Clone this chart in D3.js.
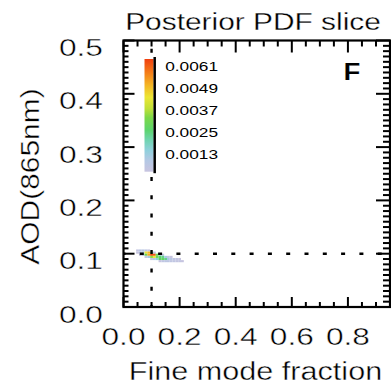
<!DOCTYPE html>
<html>
<head>
<meta charset="utf-8">
<script src="https://cdn.jsdelivr.net/npm/d3@7"></script>
<style>
  html, body { margin: 0; padding: 0; background: #fff; }
  svg { display: block; }
  text { font-family: "Liberation Sans", Arial, Helvetica, sans-serif; fill: #000; stroke: #fff; stroke-width: 0.4; }
</style>
</head>
<body>
<svg id="chart" width="391" height="387"></svg>
<script>
// Axis ticks and labels
const xTickValues = [0.0, 0.2, 0.4, 0.6, 0.8];
const xTickLabels = ["0.0", "0.2", "0.4", "0.6", "0.8"];
const yTickValues = [0.0, 0.1, 0.2, 0.3, 0.4, 0.5];
const yTickLabels = ["0.0", "0.1", "0.2", "0.3", "0.4", "0.5"];

// Colour bar ticks (PDF density)
const cbTickValues = [0.0013, 0.0025, 0.0037, 0.0049, 0.0061];
const cbTickLabels = ["0.0013", "0.0025", "0.0037", "0.0049", "0.0061"];
const cbDomain = [0.00035, 0.0065];

// Reference (true) values marked by dotted cross-hairs
const refFmf = 0.1;
const refAod = 0.1;

// Posterior PDF slice on a (fine mode fraction, AOD) grid
const fmfBins = [0.05, 0.06, 0.07, 0.08, 0.09, 0.10, 0.11, 0.12, 0.13, 0.14, 0.15, 0.16, 0.17, 0.18, 0.19, 0.20, 0.21];
const aodBins = [0.106, 0.102, 0.098, 0.094, 0.090, 0.086];
const pdfValues = [
  [0.0005, 0.0008, 0.0008, 0.0007, 0.0004, 0, 0, 0, 0, 0, 0, 0, 0, 0, 0, 0, 0],
  [0.0004, 0.0008, 0.0012, 0.0044, 0.0050, 0.0030, 0.0008, 0, 0, 0, 0, 0, 0, 0, 0, 0, 0],
  [0, 0.0004, 0.0008, 0.0030, 0.0052, 0.0064, 0.0062, 0.0030, 0.0012, 0.0006, 0, 0, 0, 0, 0, 0, 0],
  [0, 0, 0, 0.0005, 0.0012, 0.0034, 0.0044, 0.0030, 0.0026, 0.0024, 0.0012, 0.0006, 0.0004, 0, 0, 0, 0],
  [0, 0, 0, 0, 0, 0.0005, 0.0010, 0.0016, 0.0027, 0.0028, 0.0024, 0.0012, 0.0008, 0.0006, 0.0005, 0.0004, 0],
  [0, 0, 0, 0, 0, 0, 0, 0, 0.0004, 0.0006, 0.0007, 0.0007, 0.0006, 0.0006, 0.0005, 0.0005, 0.0004]
];
const fmfStep = 0.01;
const aodStep = 0.004;

// Colour ramp stops (fraction of colour-bar range -> colour)
const rampStops = [0, 0.10, 0.19, 0.28, 0.37, 0.48, 0.56, 0.66, 0.77, 0.88, 1];
const rampColors = ["#c8c4e0", "#b4c8e4", "#90d0dc", "#70d4b0", "#5cd46c", "#7cd848", "#c0e038", "#ece634", "#f4b424", "#f47c18", "#f04010"];

const svg = d3.select("#chart");

const x = d3.scaleLinear().domain([0, 0.95]).range([123.5, 390]);
const y = d3.scaleLinear().domain([0, 0.5]).range([307, 40.5]);

const tNorm = d3.scaleLinear().domain(cbDomain).range([0, 1]).clamp(true);
const ramp = d3.scaleLinear().domain(rampStops).range(rampColors).interpolate(d3.interpolateRgb);
const color = v => ramp(tNorm(v));

// text helper with horizontal stretch
function txt(parent, s, px, py, size, sx, anchor, extra) {
  const t = parent.append("text")
    .attr("transform", `translate(${px},${py}) scale(${sx},1)`)
    .attr("font-size", size)
    .attr("text-anchor", anchor)
    .text(s);
  if (extra) extra(t);
  return t;
}

// --- heat map ---
const defs = svg.append("defs");
defs.append("filter").attr("id", "soft")
  .attr("x", "-50%").attr("y", "-50%").attr("width", "200%").attr("height", "200%")
  .append("feGaussianBlur").attr("stdDeviation", 0.6);

const cells = [];
aodBins.forEach((a, i) => fmfBins.forEach((f, j) => {
  const v = pdfValues[i][j];
  if (v > 0) cells.push({ f, a, v });
}));

svg.append("g").attr("filter", "url(#soft)")
  .selectAll("rect").data(cells).join("rect")
  .attr("x", d => x(d.f - fmfStep / 2))
  .attr("y", d => y(d.a + aodStep / 2))
  .attr("width", d => x(d.f + fmfStep / 2) - x(d.f - fmfStep / 2))
  .attr("height", d => y(d.a - aodStep / 2) - y(d.a + aodStep / 2))
  .attr("fill", d => color(d.v));

// --- dotted reference lines ---
svg.append("line")
  .attr("x1", x(refFmf)).attr("x2", x(refFmf))
  .attr("y1", y(0)).attr("y2", y(0.5))
  .attr("stroke", "#000").attr("stroke-width", 2.4)
  .attr("stroke-dasharray", "4 14.3").attr("stroke-dashoffset", 2);
svg.append("line")
  .attr("x1", x(0)).attr("x2", x(0.95))
  .attr("y1", y(refAod)).attr("y2", y(refAod))
  .attr("stroke", "#000").attr("stroke-width", 2.4)
  .attr("stroke-dasharray", "4 14.3").attr("stroke-dashoffset", 2);

// --- frame and ticks ---
const axisG = svg.append("g").attr("stroke", "#000").attr("stroke-width", 2);
const x0 = x.range()[0], x1 = x.range()[1], yb = y.range()[0], yt = y.range()[1];

const xMinor = d3.range(0, 0.951, 0.05);
const yMinor = d3.range(0, 0.5001, 0.01);

function tickLines(list, fn) {
  list.forEach(v => { const c = fn(v); axisG.append("line").attr("x1", c[0]).attr("y1", c[1]).attr("x2", c[2]).attr("y2", c[3]); });
}
const isMajorX = v => xTickValues.some(m => Math.abs(m - v) < 1e-6);
const isMajorY = v => yTickValues.some(m => Math.abs(m - v) < 1e-6);

// bottom and top
tickLines(xMinor, v => { const L = isMajorX(v) ? 10 : 5; return [x(v), yb, x(v), yb - L]; });
tickLines(xMinor, v => { const L = isMajorX(v) ? 12 : 6; return [x(v), yt, x(v), yt + L]; });
// left and right
tickLines(yMinor, v => { const L = isMajorY(v) ? 11 : 5; return [x0, y(v), x0 + L, y(v)]; });
tickLines(yMinor, v => { const L = isMajorY(v) ? 14 : 7; return [x1, y(v), x1 - L, y(v)]; });

axisG.append("rect")
  .attr("x", x0).attr("y", yt).attr("width", x1 - x0).attr("height", yb - yt)
  .attr("fill", "none").attr("stroke-width", 2.2);

// --- tick labels ---
xTickValues.forEach((v, i) => txt(svg, xTickLabels[i], x(v), 345, 24, 1.32, "middle"));
yTickValues.forEach((v, i) => txt(svg, yTickLabels[i], 103, y(v) + 15.5, 23.5, 1.35, "end"));

// --- axis titles and heading ---
txt(svg, "Fine mode fraction", 255.5, 380, 25.5, 1.2, "middle");
svg.append("text")
  .attr("transform", "translate(38.5,176.5) rotate(-90) scale(1.13,1)")
  .attr("font-size", 26.5).attr("text-anchor", "middle")
  .text("AOD(865nm)");
txt(svg, "Posterior PDF slice", 253, 30, 24.5, 1.22, "middle", t => t.style("stroke-width", 0.3));
txt(svg, "F", 343.5, 80, 24, 1.15, "start", t => t.attr("font-weight", "bold").style("stroke-width", 0.15));

// --- colour bar ---
const cb = d3.scaleLinear().domain(cbDomain).range([171.7, 59]);
const grad = defs.append("linearGradient").attr("id", "cbGrad")
  .attr("x1", 0).attr("y1", 1).attr("x2", 0).attr("y2", 0);
rampStops.forEach((s, i) => grad.append("stop").attr("offset", s).attr("stop-color", rampColors[i]));

svg.append("rect")
  .attr("x", 144.5).attr("y", cb(cbDomain[1]))
  .attr("width", 9).attr("height", cb(cbDomain[0]) - cb(cbDomain[1]))
  .attr("fill", "url(#cbGrad)");
svg.append("line")
  .attr("x1", 154.7).attr("x2", 154.7)
  .attr("y1", cb(cbDomain[1]) - 2).attr("y2", cb(cbDomain[0]) + 1.5)
  .attr("stroke", "#000").attr("stroke-width", 2.5);
cbTickValues.forEach((v, i) => txt(svg, cbTickLabels[i], 165.2, cb(v) + 4.9, 13.5, 1.28, "start", t => t.style("stroke-width", 0)));
</script>
</body>
</html>
